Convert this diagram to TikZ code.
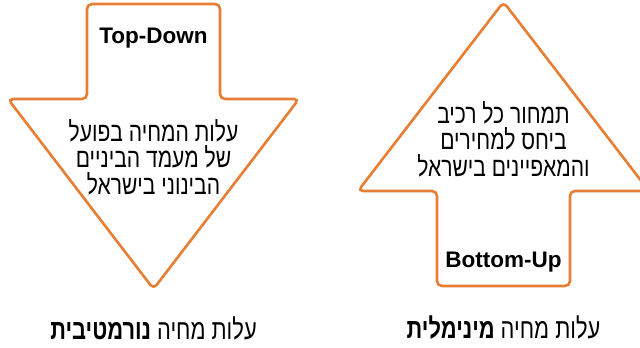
\documentclass[tikz,border=0pt]{standalone}
\usepackage{fontspec}
\setmainfont{Liberation Sans}
\newfontfamily\hebfont[Script=Hebrew,FakeStretch=0.78]{Liberation Sans}
\TeXXeTstate=1
\definecolor{cOrangeLine}{HTML}{E67E33}
\definecolor{cInk}{HTML}{000000}
\def\Ltopdown{Top-Down}
\def\Lbottomup{Bottom-Up}
\def\Lactual{\beginR עלות המחיה בפועל\endR\\\beginR של מעמד הביניים\endR\\\beginR הבינוני בישראל\endR}
\def\Lpricing{\beginR תמחור כל רכיב\endR\\\beginR ביחס למחירים\endR\\\beginR והמאפיינים בישראל\endR}
\def\Lnormative{\beginR עלות מחיה {\bfseries נורמטיבית}\endR}
\def\Lminimal{\beginR עלות מחיה {\bfseries מינימלית}\endR}

\begin{document}
\begin{tikzpicture}[
  x=1pt, y=-1pt,
  arrowshape/.style={
    draw=cOrangeLine, line width=2.6pt, rounded corners=5pt, fill=white
  },
  tagtext/.style={
    font=\fontsize{22.5}{26}\selectfont\bfseries, text=cInk, inner sep=0pt
  },
  hebtext/.style={
    font=\hebfont\fontsize{27}{26.5}\selectfont, text=cInk, align=center,
    inner sep=0pt
  },
  captext/.style={
    font=\hebfont\fontsize{28}{30}\selectfont, text=cInk, inner sep=0pt
  }
]

% ── Frame: page is 640 x 348, the right arrow head runs past the edge ──
\useasboundingbox (0,0) rectangle (640,348);
\clip (0,0) rectangle (640,348);

% ── Arrow sizes, measured on the original (in px) ──
% Shaft half width 66.5, head half width 145.5
\def\Sw{66.5}  \def\Hw{145.5}
\def\Lx{153.5} \def\Rx{503.5}

% Left arrow points down
\draw[arrowshape]
  (\Lx-\Sw,4) -- (\Lx+\Sw,4) -- (\Lx+\Sw,99) -- (\Lx+\Hw,99)
  -- (\Lx,289) -- (\Lx-\Hw,99) -- (\Lx-\Sw,99) -- cycle;

% Right arrow points up
\draw[arrowshape]
  (\Rx,2) -- (\Rx+\Hw,191) -- (\Rx+\Sw,191) -- (\Rx+\Sw,286)
  -- (\Rx-\Sw,286) -- (\Rx-\Sw,191) -- (\Rx-\Hw,191) -- cycle;

% ── Texts inside the arrows ──
\node[tagtext] (tagTD) at (\Lx,38) {\Ltopdown};
\node[hebtext] (txtL) at (\Lx,157) {\Lactual};

\node[hebtext] (txtR) at (\Rx,139) {\Lpricing};
\node[tagtext] (tagBU) at (\Rx,262) {\Lbottomup};

% ── Captions below ──
\node[captext] (capL) at (\Lx,328) {\Lnormative};
\node[captext] (capR) at (\Rx,328) {\Lminimal};

\end{tikzpicture}
\end{document}
